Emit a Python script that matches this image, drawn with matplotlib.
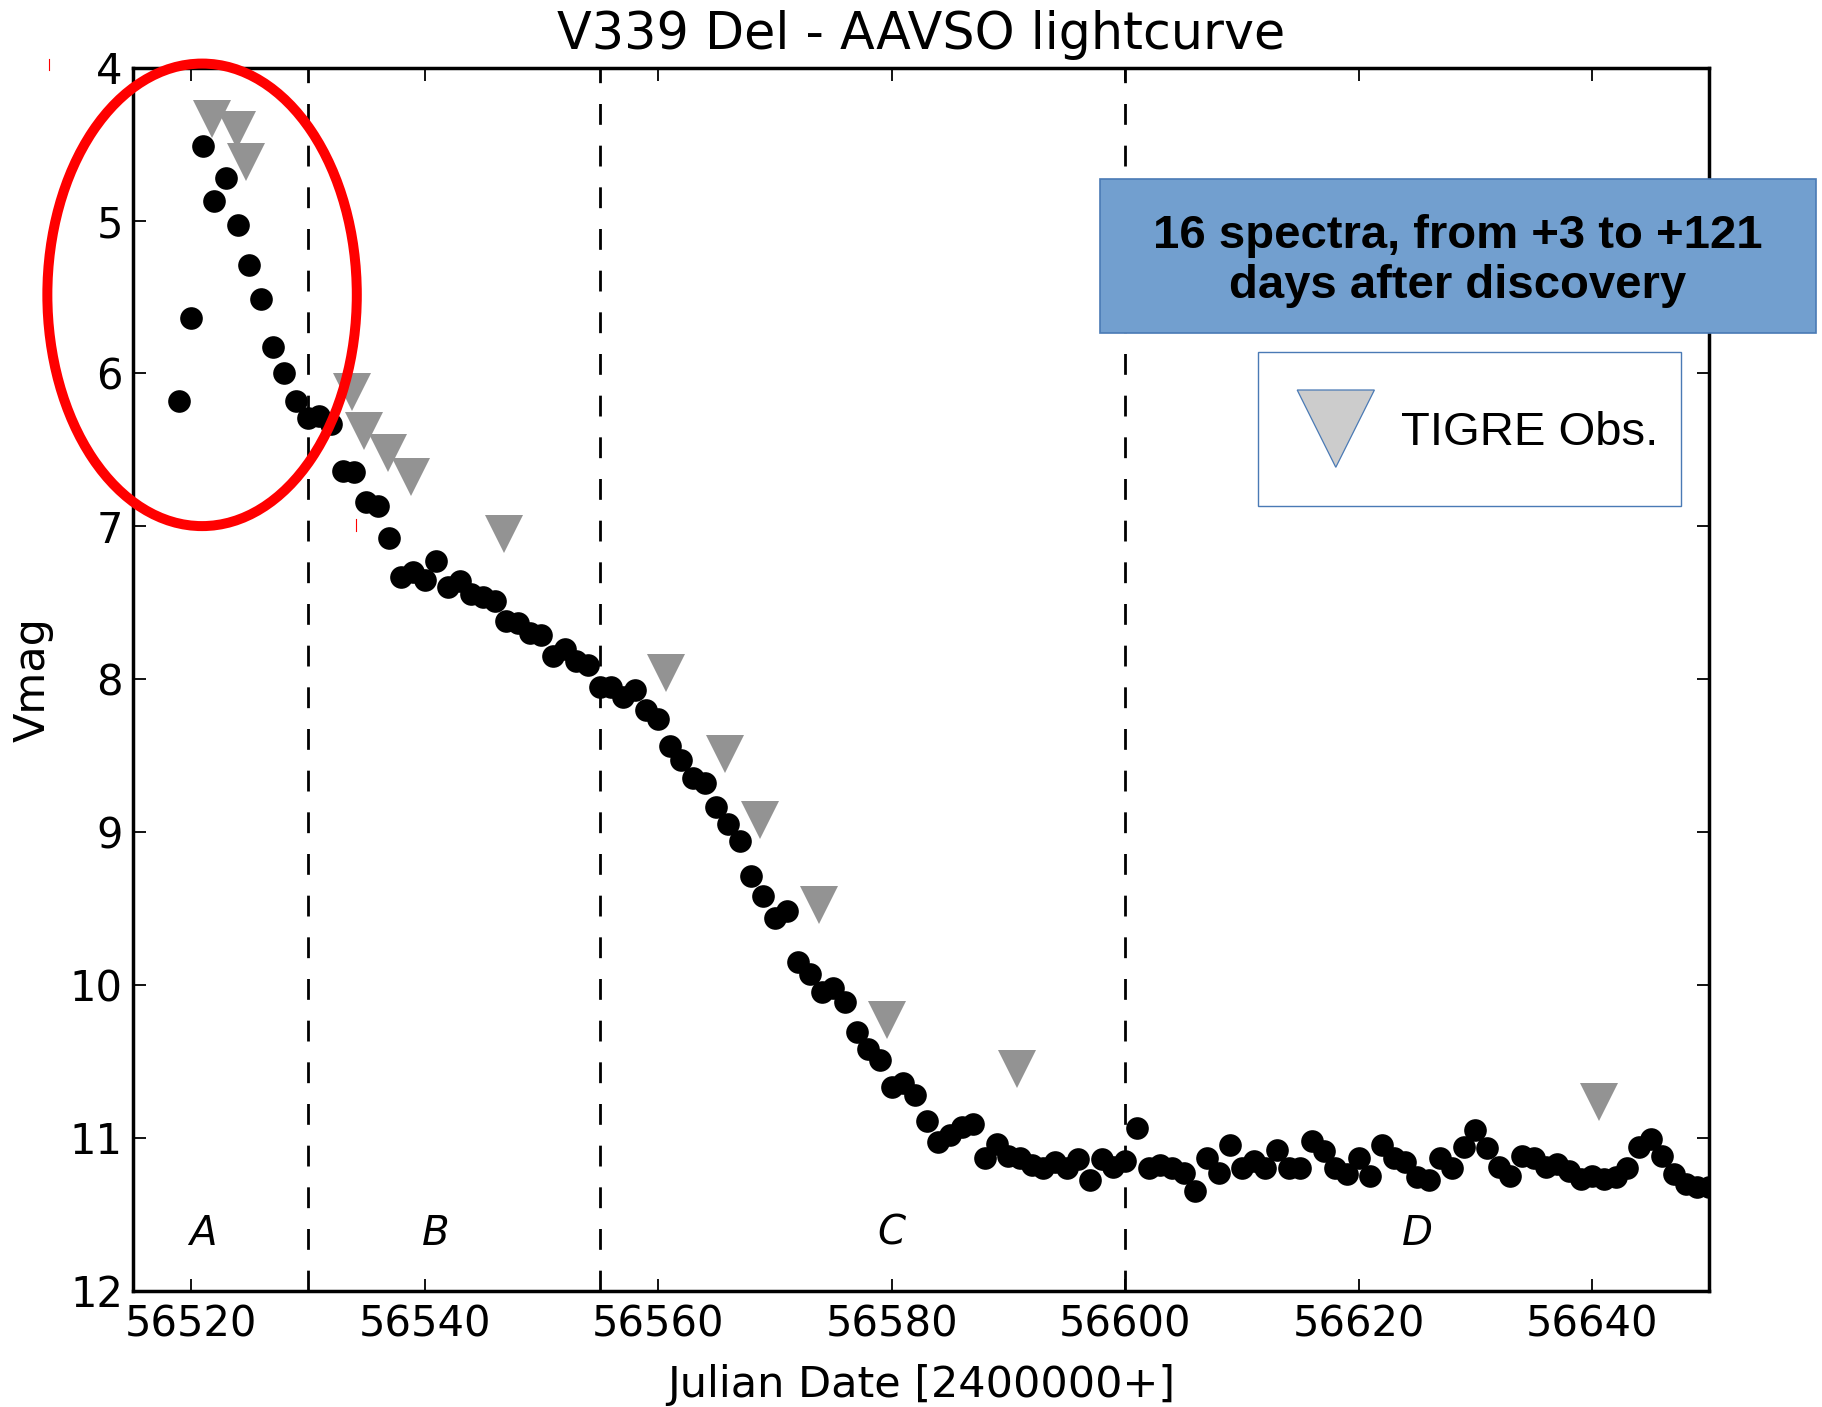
import matplotlib
matplotlib.use("Agg")
import matplotlib.pyplot as plt
from matplotlib.patches import Ellipse, Rectangle, Polygon
from matplotlib.lines import Line2D
from matplotlib.ticker import MultipleLocator

# AAVSO daily V magnitudes of V339 Del
jd = [56519, 56520, 56521, 56522, 56523, 56524, 56525, 56526, 56527, 56528,
      56529, 56530, 56531, 56532, 56533, 56534, 56535, 56536, 56537, 56538,
      56539, 56540, 56541, 56542, 56543, 56544, 56545, 56546, 56547, 56548,
      56549, 56550, 56551, 56552, 56553, 56554, 56555, 56556, 56557, 56558,
      56559, 56560, 56561, 56562, 56563, 56564, 56565, 56566, 56567, 56568,
      56569, 56570, 56571, 56572, 56573, 56574, 56575, 56576, 56577, 56578,
      56579, 56580, 56581, 56582, 56583, 56584, 56585, 56586, 56587, 56588,
      56589, 56590, 56591, 56592, 56593, 56594, 56595, 56596, 56597, 56598,
      56599, 56600, 56601, 56602, 56603, 56604, 56605, 56606, 56607, 56608,
      56609, 56610, 56611, 56612, 56613, 56614, 56615, 56616, 56617, 56618,
      56619, 56620, 56621, 56622, 56623, 56624, 56625, 56626, 56627, 56628,
      56629, 56630, 56631, 56632, 56633, 56634, 56635, 56636, 56637, 56638,
      56639, 56640, 56641, 56642, 56643, 56644, 56645, 56646, 56647, 56648,
      56649, 56650]
vmag = [6.18, 5.635, 4.51, 4.87, 4.72, 5.03, 5.29, 5.51, 5.83, 6.00,
        6.18, 6.29, 6.28, 6.33, 6.64, 6.645, 6.84, 6.87, 7.08, 7.33,
        7.30, 7.35, 7.23, 7.40, 7.36, 7.44, 7.46, 7.49, 7.62, 7.63,
        7.70, 7.71, 7.85, 7.80, 7.88, 7.91, 8.05, 8.05, 8.12, 8.07,
        8.20, 8.26, 8.44, 8.53, 8.65, 8.68, 8.84, 8.95, 9.06, 9.29,
        9.42, 9.56, 9.52, 9.85, 9.93, 10.05, 10.02, 10.11, 10.31, 10.42,
        10.49, 10.67, 10.64, 10.72, 10.89, 11.03, 10.98, 10.93, 10.91, 11.13,
        11.04, 11.12, 11.13, 11.18, 11.20, 11.16, 11.20, 11.14, 11.28, 11.14,
        11.19, 11.15, 10.94, 11.20, 11.18, 11.20, 11.23, 11.35, 11.13, 11.23,
        11.05, 11.20, 11.15, 11.20, 11.08, 11.20, 11.20, 11.02, 11.09, 11.20,
        11.24, 11.13, 11.25, 11.05, 11.13, 11.16, 11.26, 11.28, 11.13, 11.20,
        11.06, 10.95, 11.07, 11.19, 11.25, 11.12, 11.13, 11.19, 11.17, 11.22,
        11.27, 11.25, 11.27, 11.26, 11.20, 11.06, 11.01, 11.12, 11.24, 11.30,
        11.32, 11.32]

# epochs of the TIGRE spectra
tigre_jd = [56521.8, 56523.95, 56524.7, 56533.8, 56534.8, 56536.85, 56538.8,
            56546.8, 56560.7, 56565.7, 56568.7, 56573.8, 56579.6, 56590.7,
            56640.6]
tigre_mag = [4.335, 4.405, 4.62, 6.12, 6.38, 6.52, 6.68,
             7.05, 7.96, 8.49, 8.92, 9.48, 10.23, 10.55,
             10.77]

# phase boundaries and labels
phase_edges = [56530, 56555, 56600]
phase_names = ["A", "B", "C", "D"]
phase_jd = [56521, 56541, 56580, 56625]
phase_mag = 11.70

W, H = 1822, 1407
fig = plt.figure(figsize=(W / 100, H / 100), dpi=100)
ax = fig.add_axes([132.6 / W, 1 - 1290.5 / H, (1709 - 132.6) / W, (1290.5 - 67.7) / H])

for x in phase_edges:
    ax.axvline(x, color="k", lw=2, linestyle=(0, (7.5, 7.5)), zorder=1)

ax.plot(jd, vmag, "o", color="k", ms=16.3, mew=0, zorder=3)
ax.plot(tigre_jd, tigre_mag, "v", color="#939393", ms=27.5, mew=0, zorder=4)

for name, x in zip(phase_names, phase_jd):
    ax.text(x, phase_mag, name, fontsize=29, style="italic",
            ha="center", va="baseline")

ax.set_xlim(56515, 56650)
ax.set_ylim(12, 4)
ax.xaxis.set_major_locator(MultipleLocator(20))
ax.yaxis.set_major_locator(MultipleLocator(1))
ax.ticklabel_format(useOffset=False)
ax.tick_params(direction="in", top=True, right=True, length=9, width=1.3,
               labelsize=30)
ax.tick_params(axis="x", pad=9.5)
ax.tick_params(axis="y", pad=7)
for sp in ax.spines.values():
    sp.set_linewidth(2.5)

ax.set_title("V339 Del - AAVSO lightcurve", fontsize=36.5, pad=13.5)
ax.set_xlabel("Julian Date [2400000+]", fontsize=31, labelpad=13)
ax.set_ylabel("Vmag", fontsize=31, labelpad=12)

# highlight around the maximum
ax.add_patch(Ellipse((56520.95, 5.486), 26.5, 3.026, fill=False,
                     edgecolor="#ff0000", lw=7.2, clip_on=False, zorder=6))
for xs, ys in [((49, 49), (59, 70)), ((356, 356), (519, 531))]:
    fig.add_artist(Line2D([x / W for x in xs], [1 - y / H for y in ys],
                          color="#ff0000", lw=0.8))

# summary box
fig.add_artist(Rectangle((1100 / W, 1 - 332.7 / H), 716 / W, 153.4 / H,
                         facecolor="#729fcf", edgecolor="#4a7ab5", lw=1.2,
                         transform=fig.transFigure, zorder=7))
fig.text(1458 / W, 1 - 298.3 / H,
         "16 spectra, from +3 to +121\ndays after discovery",
         fontsize=34, fontweight="bold", family="Liberation Sans",
         ha="center", va="baseline", linespacing=1.2, zorder=8)

# legend for the spectra
fig.add_artist(Rectangle((1258.4 / W, 1 - 505.7 / H), 422.6 / W, 153.7 / H,
                         facecolor="white", edgecolor="#4a7ab5", lw=1.0,
                         transform=fig.transFigure, zorder=7))
tri = [(1297.2, 390), (1374.4, 390), (1335.8, 467.3)]
fig.add_artist(Polygon([(x / W, 1 - y / H) for x, y in tri], closed=True,
                       facecolor="#cccccc", edgecolor="#4a7ab5", lw=0.9,
                       transform=fig.transFigure, zorder=8))
fig.text(1400.9 / W, 1 - 445 / H, "TIGRE Obs.", fontsize=34,
         family="Liberation Sans", ha="left", va="baseline", zorder=8)

fig.savefig("out.png", dpi=100)
